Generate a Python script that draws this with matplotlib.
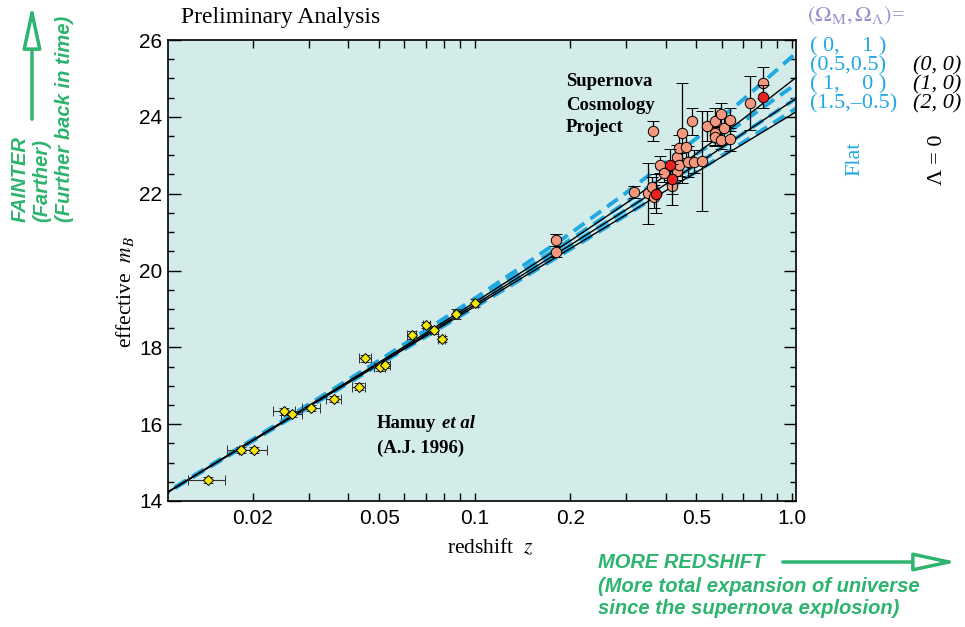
import numpy as np
import matplotlib
matplotlib.use('Agg')
import matplotlib.pyplot as plt
from matplotlib.ticker import FixedLocator, FixedFormatter, NullFormatter
from matplotlib.patches import FancyArrowPatch

# ============================================================
# data
# ============================================================
# model curves: effective m_B at these redshifts
curve_z = [0.01, 0.02, 0.05, 0.1, 0.2, 0.3, 0.5, 0.7, 1.04]
# flat universes (Omega_M, Omega_L)
m_flat_0_1 = [14.08, 15.61, 17.66, 19.27, 20.96, 22.02, 23.44, 24.44, 25.69]
m_flat_05_05 = [14.07, 15.59, 17.62, 19.18, 20.80, 21.77, 23.03, 23.87, 24.88]
m_flat_1_0 = [14.07, 15.58, 17.58, 19.11, 20.66, 21.58, 22.76, 23.56, 24.50]
m_flat_15_m05 = [14.06, 15.56, 17.55, 19.04, 20.55, 21.44, 22.57, 23.33, 24.24]
# Lambda = 0 universes
m_open_0_0 = [14.07, 15.59, 17.61, 19.17, 20.77, 21.75, 23.04, 23.94, 25.05]
m_open_1_0 = [14.07, 15.58, 17.58, 19.11, 20.66, 21.58, 22.76, 23.56, 24.50]
m_open_2_0 = [14.06, 15.57, 17.56, 19.06, 20.57, 21.45, 22.56, 23.29, 24.15]

# Hamuy et al (1996) low-redshift supernovae
hamuy_z = [0.0144, 0.0184, 0.0201, 0.0251, 0.0266, 0.0306, 0.0360, 0.0432, 0.0452,
           0.0502, 0.0522, 0.0634, 0.0705, 0.0746, 0.0789, 0.0875, 0.1005]
hamuy_m = [14.55, 15.33, 15.33, 16.33, 16.26, 16.41, 16.66, 16.98, 17.71,
           17.48, 17.55, 18.32, 18.58, 18.45, 18.21, 18.87, 19.16]
hamuy_zerr = [0.0019, 0.0018, 0.0020, 0.0020, 0.0020, 0.0020, 0.0020, 0.0020, 0.0020,
              0.0020, 0.0020, 0.0020, 0.0020, 0.0020, 0.0020, 0.0020, 0.0020]
hamuy_merr = [0.07, 0.08, 0.07, 0.10, 0.08, 0.08, 0.08, 0.10, 0.10,
              0.10, 0.08, 0.10, 0.08, 0.10, 0.08, 0.12, 0.10]

# Supernova Cosmology Project high-redshift supernovae
scp_z = [0.180, 0.180, 0.317, 0.351, 0.362, 0.366, 0.368, 0.385, 0.395, 0.419,
         0.435, 0.435, 0.442, 0.442, 0.451, 0.465, 0.472, 0.484, 0.493, 0.522,
         0.541, 0.571, 0.571, 0.571, 0.599, 0.599, 0.609, 0.638, 0.638, 0.736, 0.812]
scp_m = [20.79, 20.49, 22.05, 22.01, 22.18, 23.63, 21.92, 22.75, 22.55, 22.21,
         22.96, 22.60, 23.18, 22.75, 23.59, 23.22, 22.83, 23.89, 22.83, 22.86,
         23.76, 23.89, 23.57, 23.48, 24.07, 23.40, 23.70, 23.92, 23.42, 24.35, 24.89]
scp_merr = [0.15, 0.15, 0.16, 0.80, 0.25, 0.26, 0.30, 0.22, 0.25, 0.50,
            0.30, 0.25, 0.35, 0.30, 1.30, 0.30, 0.40, 0.35, 0.30, 1.30,
            0.40, 0.35, 0.30, 0.25, 0.30, 0.25, 0.30, 0.30, 0.30, 0.70, 0.40]
scp_red_z = [0.373, 0.414, 0.419, 0.812]
scp_red_m = [22.00, 22.75, 22.38, 24.52]
scp_red_merr = [0.50, 0.40, 0.40, 0.30]

xtick_major = [0.02, 0.05, 0.1, 0.2, 0.5, 1.0]
xtick_labels = ['0.02', '0.05', '0.1', '0.2', '0.5', '1.0']
xtick_minor = [0.03, 0.04, 0.06, 0.07, 0.08, 0.09, 0.3, 0.4, 0.6, 0.7, 0.8, 0.9]

# ============================================================
# style
# ============================================================
CYAN = '#1fa9e1'
GREEN = '#2db46e'
PURPLE = '#9b90cf'
SERIF = 'Liberation Serif'
SANS = 'Liberation Sans'
plt.rcParams['font.family'] = [SANS, 'DejaVu Sans']
plt.rcParams['mathtext.fontset'] = 'stix'

W, H = 965, 627
fig = plt.figure(figsize=(W / 100, H / 100), dpi=100)
ax = fig.add_axes([168 / W, 1 - 501 / H, (796 - 168) / W, (501 - 40) / H])
ax.set_facecolor('#d3ecea')


def fx(px):
    return px / W


def fy(py):
    return 1 - py / H


# ============================================================
# curves and points
# ============================================================
for m in [m_flat_0_1, m_flat_05_05, m_flat_1_0, m_flat_15_m05]:
    ax.plot(curve_z, m, color=CYAN, lw=2.8, ls=(0, (3.4, 1.9)), zorder=2)
for m in [m_open_0_0, m_open_1_0, m_open_2_0]:
    ax.plot(curve_z, m, color='black', lw=1.0, zorder=2.5)

ax.errorbar(hamuy_z, hamuy_m, xerr=hamuy_zerr, yerr=hamuy_merr, fmt='D', ms=5.5,
            mfc='#f5e60a', mec='black', mew=0.7, ecolor='#333333',
            elinewidth=0.8, capsize=3.5, capthick=0.8, zorder=4)
ax.errorbar(scp_z, scp_m, yerr=scp_merr, fmt='o', ms=7.5, mfc='#f4977c', mec='black',
            mew=0.7, ecolor='black', elinewidth=0.9, capsize=4, capthick=0.9, zorder=4)
ax.errorbar(scp_red_z, scp_red_m, yerr=scp_red_merr, fmt='o', ms=7.5, mfc='#e8231d',
            mec='black', mew=0.7, ecolor='black', elinewidth=0.9, capsize=4,
            capthick=0.9, zorder=5)

# ============================================================
# axes
# ============================================================
ax.set_xscale('log')
ax.set_xlim(0.0108, 1.03)
ax.set_ylim(14, 26)
ax.xaxis.set_major_locator(FixedLocator(xtick_major))
ax.xaxis.set_major_formatter(FixedFormatter(xtick_labels))
ax.xaxis.set_minor_locator(FixedLocator(xtick_minor))
ax.xaxis.set_minor_formatter(NullFormatter())
ax.set_yticks([14, 16, 18, 20, 22, 24, 26])
ax.set_yticks(np.arange(14, 26.1, 0.5), minor=True)
ax.tick_params(which='both', direction='in', top=True, right=True, width=1.0,
               labelsize=15)
ax.tick_params(axis='x', which='both', length=6, pad=6)
ax.tick_params(axis='y', which='major', length=9, pad=4)
ax.tick_params(axis='y', which='minor', length=4.5)
for s in ax.spines.values():
    s.set_linewidth(1.2)

fig.text(fx(125), fy(292), r'effective  $m_B$', rotation=90, ha='center', va='center',
         family=SERIF, fontsize=15.5)
fig.text(fx(490), fy(548), r'redshift  $z$', ha='center', va='center',
         family=SERIF, fontsize=15.5)
fig.text(fx(181), fy(18), 'Preliminary Analysis', ha='left', va='center',
         family=SERIF, fontsize=17)

# labels inside the plot
for i, s in enumerate(['Supernova', 'Cosmology', 'Project']):
    fig.text(fx(566), fy(82 + 23 * i), s, ha='left', va='center', family=SERIF,
             fontweight='bold', fontsize=13.5)
t1 = fig.text(fx(377), fy(424), 'Hamuy', ha='left', va='center', family=SERIF,
              fontweight='bold', fontsize=13.5)
ax.annotate('et al', xy=(1, 0.5), xycoords=t1, xytext=(4, 0), textcoords='offset points',
            ha='left', va='center', family=SERIF, fontweight='bold', fontstyle='italic',
            fontsize=13.5, annotation_clip=False)
fig.text(fx(377), fy(448), '(A.J. 1996)', ha='left', va='center', family=SERIF,
         fontweight='bold', fontsize=13.5)

# ============================================================
# legend text on the right
# ============================================================
fig.text(fx(807), fy(16), r'$(\Omega_{\mathrm{M}},\Omega_{\Lambda})$=', ha='left',
         va='center', color=PURPLE, family=SERIF, fontsize=16)
flat_labels = ['( 0,    1 )', '(0.5,0.5)', '( 1,    0 )', '(1.5,\u20130.5)']
for i, s in enumerate(flat_labels):
    fig.text(fx(810), fy(47 + 19 * i), s, ha='left', va='center', color=CYAN,
             family=SERIF, fontsize=16)
for i, s in enumerate(['(0, 0)', '(1, 0)', '(2, 0)']):
    fig.text(fx(913), fy(66 + 19 * i), s, ha='left', va='center', color='black',
             family=SERIF, fontstyle='italic', fontsize=16)
fig.text(fx(855), fy(159), 'Flat', rotation=90, ha='center', va='center', color=CYAN,
         family=SERIF, fontsize=16)
fig.text(fx(937), fy(160), '\u039b = 0', rotation=90, ha='center', va='center',
         color='black', family=SERIF, fontsize=16)

# ============================================================
# green notes
# ============================================================
green_kw = dict(color=GREEN, family=SANS, fontweight='bold', fontstyle='italic',
                fontsize=14.5)
fig.text(fx(20), fy(222), 'FAINTER', rotation=90, ha='center', va='bottom', **green_kw)
fig.text(fx(42), fy(222), '(Farther)', rotation=90, ha='center', va='bottom', **green_kw)
fig.text(fx(64), fy(222), '(Further back in time)', rotation=90, ha='center',
         va='bottom', **green_kw)
fig.text(fx(598), fy(562), 'MORE REDSHIFT', ha='left', va='center', **green_kw)
fig.text(fx(598), fy(586), '(More total expansion of universe', ha='left', va='center',
         **green_kw)
fig.text(fx(598), fy(608), 'since the supernova explosion)', ha='left', va='center',
         **green_kw)

arrow_style = '-|>,head_length=1.3,head_width=0.28'
fig.patches.append(FancyArrowPatch((fx(32), fy(122)), (fx(32), fy(2)),
                                   transform=fig.transFigure, arrowstyle=arrow_style,
                                   mutation_scale=20, lw=2.5, ec=GREEN, fc='white'))
fig.patches.append(FancyArrowPatch((fx(780), fy(562)), (fx(960), fy(562)),
                                   transform=fig.transFigure, arrowstyle=arrow_style,
                                   mutation_scale=20, lw=2.5, ec=GREEN, fc='white'))

fig.savefig('out.png', dpi=100, facecolor='white')
print('saved out.png')
